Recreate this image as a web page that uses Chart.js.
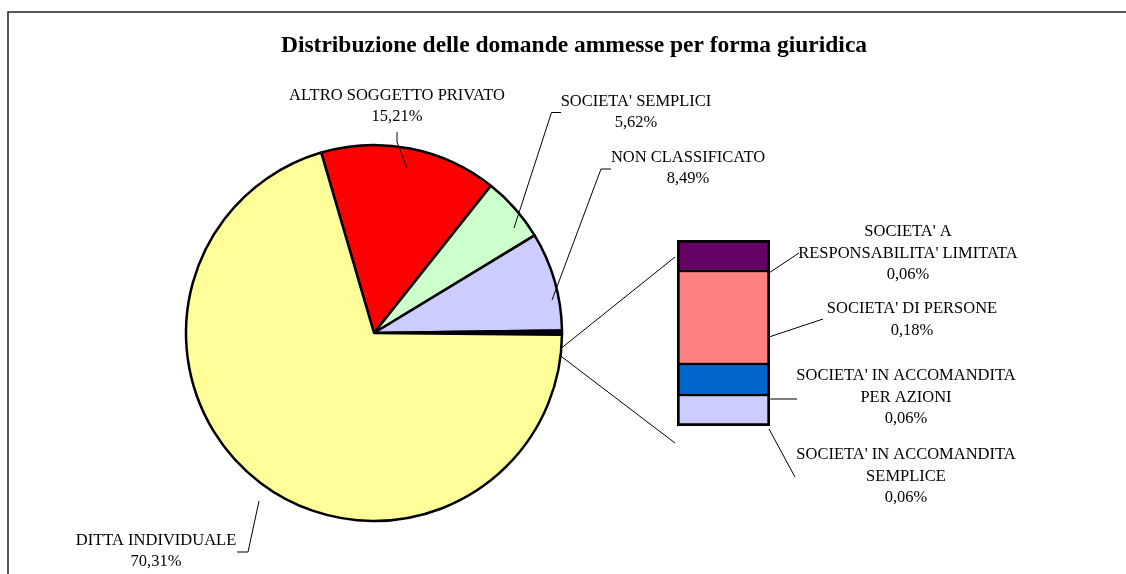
<!DOCTYPE html>
<html>
<head>
<meta charset="utf-8">
<script src="https://cdn.jsdelivr.net/npm/chart.js@4/dist/chart.umd.min.js"></script>
<style>
  body { margin: 0; background: #fff; }
  #wrap { position: relative; width: 1126px; height: 574px; }
  #wrap canvas { position: absolute; left: 0; top: 0; }
</style>
</head>
<body>
<div id="wrap">
  <canvas id="pieChart" width="1126" height="574"></canvas>
  <canvas id="barChart" width="1126" height="574"></canvas>
</div>
<script>
// main pie
const pieLabels = ['ALTRO SOGGETTO PRIVATO', "SOCIETA' SEMPLICI", 'NON CLASSIFICATO', 'ALTRE', 'DITTA INDIVIDUALE'];
const pieValues = [15.21, 5.62, 8.49, 0.36, 70.31];
const pieColors = ['#FF0000', '#CCFFCC', '#CCCCFF', '#000033', '#FFFF99'];

// split bar (bottom to top)
const barLabels = ["SOCIETA' IN ACCOMANDITA SEMPLICE", "SOCIETA' IN ACCOMANDITA PER AZIONI", "SOCIETA' DI PERSONE", "SOCIETA' A RESPONSABILITA' LIMITATA"];
const barValues = [0.06, 0.06, 0.18, 0.06];
const barColors = ['#CCCCFF', '#0066CC', '#FF8080', '#660066'];

const fmt = v => v.toFixed(2).replace('.', ',') + '%';
const FONT = '16.5px "Liberation Serif", "Times New Roman", serif';

// label layout: centre x, first line y, leader polyline (label side)
const pieLabelPos = [
    { x: 397, y: 96, lead: [[397, 132], [397, 142]] },
    { x: 636, y: 102, lead: [[561, 112.5], [551.5, 112.5]] },
    { x: 688, y: 158, lead: [[611, 169], [601, 169]] },
    null,
    { x: 156, y: 541, lead: [[237, 552], [248, 552]] }
];
const pieLeadTip = [[407, 168], [514, 228], [552, 300], null, [259, 501]];

const barLabelPos = [
    { lines: ["SOCIETA' IN ACCOMANDITA", 'SEMPLICE'], x: 906, y: 455, from: [795, 477], frac: 1, dy: 3 },
    { lines: ["SOCIETA' IN ACCOMANDITA", 'PER AZIONI'], x: 906, y: 376, from: [797, 399], frac: 1, dy: 4 },
    { lines: ["SOCIETA' DI PERSONE"], x: 912, y: 309, from: [823, 319], frac: 0.71, dy: 0 },
    { lines: ["SOCIETA' A", "RESPONSABILITA' LIMITATA"], x: 908, y: 232, from: [799, 253], frac: 1, dy: 2 }
];

let pieChart;

const framePlugin = {
    id: 'frame',
    beforeDraw(chart) {
        const ctx = chart.ctx;
        ctx.save();
        ctx.strokeStyle = '#222';
        ctx.lineWidth = 1.5;
        ctx.beginPath();
        ctx.moveTo(8, 574);
        ctx.lineTo(8, 12);
        ctx.lineTo(1126, 12);
        ctx.stroke();
        ctx.fillStyle = '#000';
        ctx.font = 'bold 23.5px "Liberation Serif", "Times New Roman", serif';
        ctx.textAlign = 'center';
        ctx.textBaseline = 'middle';
        ctx.fillText('Distribuzione delle domande ammesse per forma giuridica', 574, 46);
        ctx.restore();
    }
};

const pieLabelPlugin = {
    id: 'pieLabels',
    afterDraw(chart) {
        const ctx = chart.ctx;
        ctx.save();
        ctx.font = FONT;
        ctx.fillStyle = '#000';
        ctx.strokeStyle = '#000';
        ctx.lineWidth = 1;
        ctx.textAlign = 'center';
        ctx.textBaseline = 'middle';
        pieLabelPos.forEach((p, i) => {
            if (!p) return;
            ctx.fillText(pieLabels[i], p.x, p.y);
            ctx.fillText(fmt(pieValues[i]), p.x, p.y + 21);
            ctx.beginPath();
            ctx.moveTo(p.lead[0][0], p.lead[0][1]);
            ctx.lineTo(p.lead[1][0], p.lead[1][1]);
            ctx.lineTo(pieLeadTip[i][0], pieLeadTip[i][1]);
            ctx.stroke();
        });
        ctx.restore();
    }
};

pieChart = new Chart(document.getElementById('pieChart').getContext('2d'), {
    type: 'pie',
    data: {
        labels: pieLabels,
        datasets: [{
            data: pieValues,
            backgroundColor: pieColors,
            borderColor: '#000',
            borderWidth: 2.5,
            radius: 188
        }]
    },
    options: {
        responsive: false,
        animation: false,
        rotation: -16.3,
        layout: { padding: { left: 186, right: 564, top: 145, bottom: 53 } },
        plugins: { legend: { display: false }, tooltip: { enabled: false } }
    },
    plugins: [framePlugin, pieLabelPlugin]
});

const barLabelPlugin = {
    id: 'barLabels',
    afterDraw(chart) {
        const ctx = chart.ctx;
        const arc = pieChart.getDatasetMeta(0).data[3];
        ctx.save();
        ctx.strokeStyle = '#000';
        ctx.fillStyle = '#000';
        ctx.lineWidth = 1;
        // connector lines from the pie to the bar
        const top = chart.getDatasetMeta(3).data[0];
        const bottom = chart.getDatasetMeta(0).data[0];
        const left = top.x - top.width / 2;
        const a1 = 4.6 * Math.PI / 180, a2 = 7 * Math.PI / 180;
        ctx.beginPath();
        ctx.moveTo(arc.x + arc.outerRadius * Math.cos(a1), arc.y + arc.outerRadius * Math.sin(a1));
        ctx.lineTo(left - 2, top.y + 17);
        ctx.moveTo(arc.x + arc.outerRadius * Math.cos(a2), arc.y + arc.outerRadius * Math.sin(a2));
        ctx.lineTo(left - 2, bottom.base + 17);
        ctx.stroke();

        ctx.font = FONT;
        ctx.textAlign = 'center';
        ctx.textBaseline = 'middle';
        barLabelPos.forEach((p, i) => {
            const el = chart.getDatasetMeta(i).data[0];
            const lines = p.lines.concat([fmt(barValues[i])]);
            lines.forEach((t, k) => ctx.fillText(t, p.x, p.y + k * 21.5));
            const ex = el.x + el.width / 2 - 1;
            const ey = el.y + (el.base - el.y) * p.frac + p.dy;
            ctx.beginPath();
            ctx.moveTo(p.from[0], p.from[1]);
            ctx.lineTo(ex, ey);
            ctx.stroke();
        });
        ctx.restore();
    }
};

new Chart(document.getElementById('barChart').getContext('2d'), {
    type: 'bar',
    data: {
        labels: ['ALTRE'],
        datasets: barValues.map((v, i) => ({
            label: barLabels[i],
            data: [v],
            backgroundColor: barColors[i],
            borderColor: '#000',
            borderWidth: {
                left: 3, right: 3,
                top: i === barValues.length - 1 ? 3 : 1.5,
                bottom: i === 0 ? 3 : 1.5
            },
            borderSkipped: false,
            barPercentage: 1,
            categoryPercentage: 1
        }))
    },
    options: {
        responsive: false,
        animation: false,
        layout: { padding: { left: 677, right: 356, top: 240, bottom: 148 } },
        scales: {
            x: { display: false, stacked: true },
            y: { display: false, stacked: true, min: 0, max: 0.36 }
        },
        plugins: { legend: { display: false }, tooltip: { enabled: false } }
    },
    plugins: [barLabelPlugin]
});
</script>
</body>
</html>
